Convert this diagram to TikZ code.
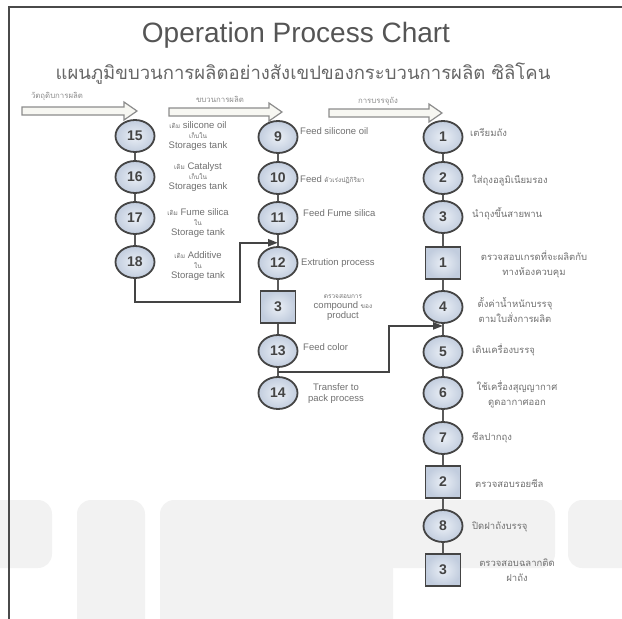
\documentclass[tikz,border=0pt]{standalone}
\usepackage{fontspec}
\setmainfont{Liberation Sans}
\newfontfamily\thai[Script=Thai]{Loma}
\usetikzlibrary{arrows.meta,shapes.geometric,calc}

\definecolor{frameclr}{HTML}{4A4A4A}
\definecolor{titleclr}{HTML}{555555}
\definecolor{subclr}{HTML}{666666}
\definecolor{txtclr}{HTML}{707070}
\definecolor{hdrclr}{HTML}{8A8A8A}
\definecolor{numclr}{HTML}{444444}
\definecolor{lineclr}{HTML}{5A5A5A}
\definecolor{wmclr}{HTML}{F2F2F2}
\definecolor{opin}{HTML}{EAEFF6}
\definecolor{opout}{HTML}{C2CDDE}
\definecolor{arrfill}{HTML}{F7F7F2}
\definecolor{arrline}{HTML}{8C8C8C}

\newcommand\thsm{\thai\fontsize{6.5}{8}\selectfont}

\tikzset{
  op/.style={ellipse, draw=numclr, line width=1.8pt, minimum width=39pt,
    minimum height=32pt, inner sep=0pt, inner color=opin, outer color=opout,
    font=\fontsize{14}{14}\selectfont\bfseries, text=numclr},
  insp/.style={rectangle, draw=numclr, line width=1.8pt, minimum width=35pt,
    minimum height=32pt, inner sep=0pt, inner color=opin, outer color=opout,
    font=\fontsize{14}{14}\selectfont\bfseries, text=numclr},
  lbl/.style={text=txtclr, font=\fontsize{9.5}{11}\selectfont, align=center, inner sep=0pt},
  lblw/.style={lbl, anchor=west},
  thlbl/.style={text=txtclr, font=\thai\fontsize{9.5}{15}\selectfont, align=center, inner sep=0pt},
  thlblw/.style={thlbl, anchor=west},
  hdr/.style={text=hdrclr, font=\thai\fontsize{7.8}{9}\selectfont, inner sep=0pt},
  trunk/.style={draw=lineclr, line width=1.5pt},
  flow/.style={draw=numclr, line width=2.2pt, line join=miter},
  arrowshape/.style={draw=arrline, fill=arrfill, line width=1.2pt, line join=miter},
  wm/.style={fill=wmclr, draw=none, rounded corners=14pt}
}

\begin{document}
\begin{tikzpicture}[x=1pt, y=-1pt]
\useasboundingbox (0,0) rectangle (622,619);

% faint background shapes
\fill[wm] (-20,500) rectangle (52,568);
\fill[wm] (77,500) rectangle (145,640);
\fill[wm] (160,500) rectangle (555,568);
\fill[wm] (160,540) rectangle (393,640);
\fill[wm] (568,500) rectangle (650,568);

% frame
\draw[frameclr, line width=2pt] (9,625) -- (9,7) -- (630,7);

% headings
\node[text=titleclr, font=\fontsize{28}{30}\selectfont] (title) at (296,35) {Operation Process Chart};
\node[text=subclr, font=\thai\fontsize{18.5}{20}\selectfont] (subtitle) at (303,74)
  {แผนภูมิขบวนการผลิตอย่างสังเขปของกระบวนการผลิต ซิลิโคน};

% block arrows over the three columns
\foreach \a/\b/\y in {22/137/111, 169/282/112, 329/442/113}{
  \draw[arrowshape] (\a,\y-4) -- (\b-13,\y-4) -- (\b-13,\y-9) -- (\b,\y)
    -- (\b-13,\y+9) -- (\b-13,\y+4) -- (\a,\y+4) -- cycle;
}
\node[hdr] (h1) at (57,96) {วัตถุดิบการผลิต};
\node[hdr] (h2) at (220,99) {ขบวนการผลิต};
\node[hdr] (h3) at (378,101) {การบรรจุถัง};

% raw materials column
\node[op] (n15) at (135,136) {15};
\node[op] (n16) at (135,177) {16};
\node[op] (n17) at (135,218) {17};
\node[op] (n18) at (135,262) {18};

% production column
\node[op]   (n9)  at (278,137) {9};
\node[op]   (n10) at (278,178) {10};
\node[op]   (n11) at (278,218) {11};
\node[op]   (n12) at (278,263) {12};
\node[insp] (s3)  at (278,307) {3};
\node[op]   (n13) at (278,351) {13};
\node[op]   (n14) at (278,393) {14};

% packing column
\node[op]   (m1) at (443,137) {1};
\node[op]   (m2) at (443,178) {2};
\node[op]   (m3) at (443,217) {3};
\node[insp] (q1) at (443,263) {1};
\node[op]   (m4) at (443,307) {4};
\node[op]   (m5) at (443,352) {5};
\node[op]   (m6) at (443,393) {6};
\node[op]   (m7) at (443,438) {7};
\node[insp] (q2) at (443,482) {2};
\node[op]   (m8) at (443,526) {8};
\node[insp] (q3) at (443,570) {3};

% vertical flow lines
\draw[trunk] (n15) -- (n16);
\draw[trunk] (n16) -- (n17);
\draw[trunk] (n17) -- (n18);
\draw[trunk] (n9) -- (n10);
\draw[trunk] (n10) -- (n11);
\draw[trunk] (n11) -- (n12);
\draw[trunk] (n12) -- (s3);
\draw[trunk] (s3) -- (n13);
\draw[trunk] (n13) -- (n14);
\draw[trunk] (m1) -- (m2);
\draw[trunk] (m2) -- (m3);
\draw[trunk] (m3) -- (q1);
\draw[trunk] (q1) -- (m4);
\draw[trunk] (m4) -- (m5);
\draw[trunk] (m5) -- (m6);
\draw[trunk] (m6) -- (m7);
\draw[trunk] (m7) -- (q2);
\draw[trunk] (q2) -- (m8);
\draw[trunk] (m8) -- (q3);

% joins between the columns
\coordinate (j1) at ($(n11)!0.55!(n12)$);
\coordinate (j2) at ($(n13)!0.5!(n14)$);
\coordinate (j3) at ($(m4)!0.42!(m5)$);
\draw[flow, -{Triangle[length=10pt,width=7pt]}] (n18.south) -- ++(0,23) -| ($(j1)+(-38,0)$) -- (j1);
\draw[flow, -{Triangle[length=10pt,width=7pt]}] (j2) -| ($(j3)+(-54,0)$) -- (j3);

% raw material labels
\node[lbl] (l15) at (198,136) {{\thsm เติม} silicone oil\\[-1pt]{\thsm เก็บใน}\\[-1pt]Storages tank};
\node[lbl] (l16) at (198,177) {{\thsm เติม} Catalyst\\[-1pt]{\thsm เก็บใน}\\[-1pt]Storages tank};
\node[lbl] (l17) at (198,223) {{\thsm เติม} Fume silica\\[-1pt]{\thsm ใน}\\[-1pt]Storage tank};
\node[lbl] (l18) at (198,266) {{\thsm เติม} Additive\\[-1pt]{\thsm ใน}\\[-1pt]Storage tank};

% production labels
\node[lblw] (l9)  at (300,131) {Feed silicone oil};
\node[lblw] (l10) at (300,180) {Feed {\thsm ตัวเร่งปฏิกิริยา}};
\node[lblw] (l11) at (303,213) {Feed Fume silica};
\node[lblw] (l12) at (301,263) {Extrution process};
\node[lbl]  (ls3) at (343,308) {{\thsm ตรวจสอบการ}\\[-1pt]compound {\thsm ของ}\\[-1pt]product};
\node[lblw] (l13) at (303,347) {Feed color};
\node[lbl]  (l14) at (336,394) {Transfer to\\pack process};

% packing labels
\node[thlblw] (k1) at (470,132) {เตรียมถัง};
\node[thlblw] (k2) at (472,180) {ใส่ถุงอลูมิเนียมรอง};
\node[thlblw] (k3) at (472,214) {นำถุงขึ้นสายพาน};
\node[thlbl]  (kq1) at (534,264) {ตรวจสอบเกรดที่จะผลิตกับ\\ทางห้องควบคุม};
\node[thlbl]  (k4) at (515,310) {ตั้งค่าน้ำหนักบรรจุ\\ตามใบสั่งการผลิต};
\node[thlblw] (k5) at (472,350) {เดินเครื่องบรรจุ};
\node[thlbl]  (k6) at (517,394) {ใช้เครื่องสุญญากาศ\\ดูดอากาศออก};
\node[thlblw] (k7) at (472,438) {ซีลปากถุง};
\node[thlblw] (kq2) at (475,483) {ตรวจสอบรอยซีล};
\node[thlblw] (k8) at (472,527) {ปิดฝาถังบรรจุ};
\node[thlbl]  (kq3) at (517,570) {ตรวจสอบฉลากติด\\ฝาถัง};
\end{tikzpicture}
\end{document}
